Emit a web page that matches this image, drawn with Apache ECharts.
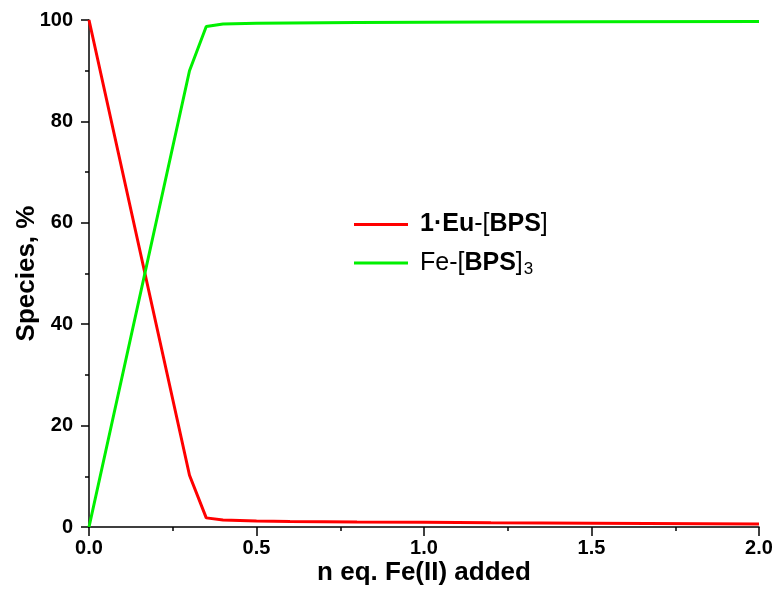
<!DOCTYPE html>
<html>
<head>
<meta charset="utf-8">
<script src="https://cdn.jsdelivr.net/npm/echarts@6/dist/echarts.min.js"></script>
<style>
  html, body { margin: 0; padding: 0; background: #fff; }
  #main { width: 777px; height: 601px; }
</style>
</head>
<body>
<div id="main"></div>
<script>
// equivalents of Fe(II) added
var xValues = [0, 0.3, 0.35, 0.4, 0.5, 0.6, 0.7, 0.8, 1.0, 1.2, 1.5, 2.0];
// 1·Eu-[BPS], %
var euValues = [100, 10.2, 1.8, 1.4, 1.2, 1.1, 1.05, 1.0, 0.95, 0.85, 0.75, 0.6];
// Fe-[BPS]3, %
var feValues = [0, 90, 98.7, 99.2, 99.35, 99.4, 99.45, 99.5, 99.55, 99.6, 99.65, 99.7];

var seriesNames = ['1·Eu-[BPS]', 'Fe-[BPS]3'];
var font = '"Liberation Sans", Arial, sans-serif';

function pairs(xs, ys) {
    var out = [];
    for (var i = 0; i < xs.length; i++) out.push([xs[i], ys[i]]);
    return out;
}

var myChart = echarts.init(document.getElementById('main'));

var option = {
    backgroundColor: '#fff',
    animation: false,
    textStyle: { fontFamily: font },
    grid: { left: 89, right: 18, top: 20, bottom: 74, containLabel: false, outerBoundsMode: 'none' },
    legend: {
        orient: 'vertical',
        left: 354,
        top: 212,
        padding: 0,
        itemWidth: 54,
        itemHeight: 14,
        itemGap: 11,
        icon: 'path://M0,6 L54,6 L54,9 L0,9 Z',
        data: seriesNames,
        formatter: function (name) {
            if (name === seriesNames[0]) return '{sp|}{b|1·Eu}{n|-[}{b|BPS}{n|]}';
            return '{sp|}{n|Fe-[}{b|BPS}{n|]}{sub|3}';
        },
        textStyle: {
            rich: {
                sp: { width: 7, lineHeight: 28 },
                b: { fontFamily: font, fontWeight: 'bold', fontSize: 25, color: '#000', lineHeight: 28 },
                n: { fontFamily: font, fontSize: 25, color: '#000', lineHeight: 28 },
                sub: { fontFamily: font, fontSize: 17, color: '#000', lineHeight: 28, padding: [13, 0, 0, 1] }
            }
        }
    },
    xAxis: {
        type: 'value',
        min: 0,
        max: 2,
        interval: 0.5,
        name: 'n eq. Fe(II) added',
        nameLocation: 'middle',
        nameGap: 33,
        nameMoveOverlap: false,
        nameTextStyle: { fontFamily: font, fontWeight: 'bold', fontSize: 26, color: '#000' },
        axisLine: { show: true, lineStyle: { color: '#000', width: 1.5 } },
        axisTick: { show: true, length: 9, lineStyle: { color: '#000', width: 1.5 } },
        minorTick: { show: true, splitNumber: 2, length: 4, lineStyle: { color: '#000', width: 1.5 } },
        splitLine: { show: false },
        axisLabel: {
            margin: 11,
            fontFamily: font, fontWeight: 'bold', fontSize: 20, color: '#000',
            formatter: function (v) { return v.toFixed(1); }
        }
    },
    yAxis: {
        type: 'value',
        min: 0,
        max: 100,
        interval: 20,
        name: 'Species, %',
        nameLocation: 'middle',
        nameGap: 49,
        nameMoveOverlap: false,
        nameTextStyle: { fontFamily: font, fontWeight: 'bold', fontSize: 26, color: '#000' },
        axisLine: { show: true, lineStyle: { color: '#000', width: 1.5 } },
        axisTick: { show: true, length: 8, lineStyle: { color: '#000', width: 1.5 } },
        minorTick: { show: true, splitNumber: 2, length: 4, lineStyle: { color: '#000', width: 1.5 } },
        splitLine: { show: false },
        axisLabel: {
            margin: 16,
            fontFamily: font, fontWeight: 'bold', fontSize: 20, color: '#000'
        }
    },
    series: [
        {
            name: seriesNames[0],
            type: 'line',
            data: pairs(xValues, euValues),
            symbol: 'none',
            itemStyle: { color: '#ff0000' },
            lineStyle: { color: '#ff0000', width: 3 }
        },
        {
            name: seriesNames[1],
            type: 'line',
            data: pairs(xValues, feValues),
            symbol: 'none',
            itemStyle: { color: '#00f000' },
            lineStyle: { color: '#00f000', width: 3 }
        }
    ]
};

myChart.setOption(option);
</script>
</body>
</html>
